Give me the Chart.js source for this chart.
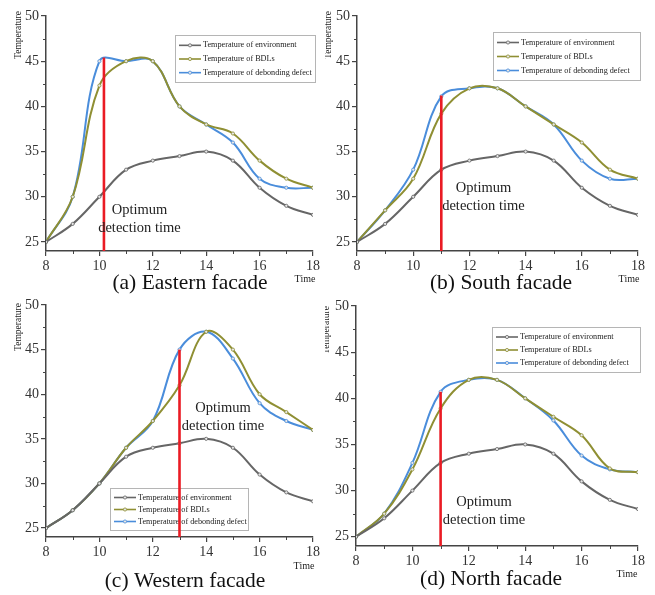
<!DOCTYPE html>
<html><head><meta charset="utf-8">
<script src="https://cdn.jsdelivr.net/npm/chart.js@4/dist/chart.umd.min.js"></script>
<style>
html,body{margin:0;padding:0;background:#fff}
body{width:655px;height:595px;position:relative;overflow:hidden}
canvas{position:absolute}
</style></head>
<body>
<canvas id="pa"></canvas><canvas id="pb"></canvas><canvas id="pc"></canvas><canvas id="pd"></canvas>
<script>
// ---------- data ----------
const hours = [8, 9, 10, 11, 12, 13, 14, 15, 16, 17, 18];
const seriesLabels = ['Temperature of environment', 'Temperature of BDLs', 'Temperature of debonding defect'];
const yTickValues = [25, 30, 35, 40, 45, 50];
const yMinorValues = [27.5, 32.5, 37.5, 42.5, 47.5];
const xMinorValues = [9, 11, 13, 15, 17];
const panelTitles = ['(a) Eastern facade', '(b) South facade', '(c) Western facade', '(d) North facade'];
const optimumText = ['Optimum', 'detection time'];

const envEast = [25, 27, 30, 33, 34, 34.5, 35, 34, 31, 29, 28];
const bdlEast = [25, 30, 42.3, 45, 45, 40, 38, 37, 34, 32, 31];
const defEast = [25, 30, 45, 45, 45, 40, 38, 36, 32, 31, 31];
const optEast = [10.17, 45.4];   // time, top temperature of red line

const envSouth = [25, 27, 30, 33, 34, 34.5, 35, 34, 31, 29, 28];
const bdlSouth = [25, 28.5, 32, 39.2, 42, 42, 40, 38, 36, 33, 32];
const defSouth = [25, 28.5, 33, 41.1, 42, 42, 40, 38, 34, 32, 32];
const optSouth = [11, 41.2];

const envWest = [25, 27, 30, 33, 34, 34.5, 35, 34, 31, 29, 28];
const bdlWest = [25, 27, 30, 34, 37, 41, 47, 45, 40, 38, 36];
const defWest = [25, 27, 30, 34, 37, 45, 47, 44, 39, 37, 36];
const optWest = [13, 45];

const envNorth = [25, 27, 30, 33, 34, 34.5, 35, 34, 31, 29, 28];
const bdlNorth = [25, 27.5, 32.3, 38.9, 42, 42, 40, 38, 36, 32.4, 32];
const defNorth = [25, 27.5, 33, 40.7, 42, 42, 40, 37.6, 33.8, 32.3, 32];
const optNorth = [11, 40.7];

// ---------- styling / layout ----------
const COLORS = ['#666666', '#8f8f33', '#4a8ddb'];
const AXIS = '#444444';
const SERIF = "'Liberation Serif', 'Times New Roman', serif";

const panels = [
  {id:'pa', env:envEast, bdl:bdlEast, def:defEast, opt:optEast, title:panelTitles[0],
   L:{x:0, y:0, w:325, h:295, yw:46, top:16, right:12, xh:20, bottom:24,
      legend:{x:175, y:35, w:140, h:47}, titleXY:[190, 283], timeXY:[305, 279], ytXY:[18, 35], optXY:[11.5, 28.5]}},
  {id:'pb', env:envSouth, bdl:bdlSouth, def:defSouth, opt:optSouth, title:panelTitles[1],
   L:{x:325, y:0, w:330, h:295, yw:32, top:16, right:17, xh:20, bottom:24,
      legend:{x:168, y:32, w:147, h:48}, titleXY:[176, 283], timeXY:[304, 279], ytXY:[3, 35], optXY:[12.5, 31.0]}},
  {id:'pc', env:envWest, bdl:bdlWest, def:defWest, opt:optWest, title:panelTitles[2],
   L:{x:0, y:295, w:325, h:300, yw:46, top:10, right:12, xh:20, bottom:38,
      legend:{x:110, y:193, w:138, h:42}, titleXY:[185, 286], timeXY:[304, 271], ytXY:[18, 32], optXY:[14.63, 38.45]}},
  {id:'pd', env:envNorth, bdl:bdlNorth, def:defNorth, opt:optNorth, title:panelTitles[3],
   L:{x:325, y:295, w:330, h:300, yw:31, top:11, right:17, xh:20, bottom:29,
      legend:{x:167, y:32, w:148, h:45}, titleXY:[166, 284], timeXY:[302, 279], ytXY:[1, 35], optXY:[12.54, 28.8]}}
];

const decor = {
  id: 'decor',
  afterDatasetsDraw(chart, args, o) {
    const ctx = chart.ctx, xs = chart.scales.x, ys = chart.scales.y, ca = chart.chartArea;
    const p = o.p, L = p.L;
    ctx.save();
    // minor ticks
    ctx.strokeStyle = AXIS; ctx.lineWidth = 1;
    yMinorValues.forEach(v => {
      const py = Math.round(ys.getPixelForValue(v)) + 0.5;
      ctx.beginPath(); ctx.moveTo(ca.left - 3, py); ctx.lineTo(ca.left, py); ctx.stroke();
    });
    xMinorValues.forEach(v => {
      const px = Math.round(xs.getPixelForValue(v)) + 0.5;
      ctx.beginPath(); ctx.moveTo(px, ca.bottom); ctx.lineTo(px, ca.bottom + 3); ctx.stroke();
    });
    // legend
    const lg = L.legend;
    ctx.fillStyle = '#fff';
    ctx.fillRect(lg.x, lg.y, lg.w, lg.h);
    ctx.strokeStyle = '#b5b5b5'; ctx.lineWidth = 1;
    ctx.strokeRect(lg.x + 0.5, lg.y + 0.5, lg.w, lg.h);
    const step = (lg.h - 6) / 3;
    chart.data.datasets.forEach((ds, i) => {
      const ry = lg.y + 3 + step * (i + 0.5) + 0.5;
      ctx.strokeStyle = ds.borderColor; ctx.lineWidth = 1.6;
      ctx.beginPath(); ctx.moveTo(lg.x + 4, ry); ctx.lineTo(lg.x + 26, ry); ctx.stroke();
      ctx.fillStyle = '#e6e6e6'; ctx.lineWidth = 0.8;
      ctx.beginPath(); ctx.arc(lg.x + 15, ry, 1.6, 0, Math.PI * 2); ctx.fill(); ctx.stroke();
      ctx.fillStyle = '#222'; ctx.font = '8.2px ' + SERIF; ctx.textBaseline = 'middle'; ctx.textAlign = 'left';
      ctx.fillText(ds.label, lg.x + 28, ry);
    });
    // red line (optimum detection time)
    const rx = xs.getPixelForValue(p.opt[0]);
    ctx.strokeStyle = '#ea1b24'; ctx.lineWidth = 2.6;
    ctx.beginPath(); ctx.moveTo(rx, ca.bottom); ctx.lineTo(rx, ys.getPixelForValue(p.opt[1])); ctx.stroke();
    // optimum text
    ctx.fillStyle = '#222'; ctx.font = '14.5px ' + SERIF; ctx.textAlign = 'center'; ctx.textBaseline = 'middle';
    const ox = xs.getPixelForValue(L.optXY[0]), oy = ys.getPixelForValue(L.optXY[1]);
    ctx.fillText(optimumText[0], ox, oy);
    ctx.fillText(optimumText[1], ox, oy + 18);
    // panel title
    ctx.font = '21.5px ' + SERIF; ctx.fillStyle = '#111';
    ctx.fillText(p.title, L.titleXY[0], L.titleXY[1]);
    // axis titles
    ctx.font = '10px ' + SERIF; ctx.fillStyle = '#222';
    ctx.fillText('Time', L.timeXY[0], L.timeXY[1]);
    ctx.save();
    ctx.translate(L.ytXY[0], L.ytXY[1]); ctx.rotate(-Math.PI / 2);
    ctx.font = '9.5px ' + SERIF;
    ctx.fillText('Temperature', 0, 0);
    ctx.restore();
    ctx.restore();
  }
};

function ds(label, arr, color) {
  return {
    label, data: hours.map((h, i) => ({x: h, y: arr[i]})),
    borderColor: color, borderWidth: 2, tension: 0.38,
    pointRadius: 1.6, pointBackgroundColor: '#e6e6e6', pointBorderColor: color, pointBorderWidth: 0.8
  };
}

panels.forEach(p => {
  const L = p.L;
  const cv = document.getElementById(p.id);
  cv.width = L.w; cv.height = L.h;
  cv.style.left = L.x + 'px'; cv.style.top = L.y + 'px';
  cv.style.width = L.w + 'px'; cv.style.height = L.h + 'px';
  new Chart(cv, {
    type: 'line',
    data: {datasets: [ds(seriesLabels[0], p.env, COLORS[0]), ds(seriesLabels[1], p.bdl, COLORS[1]), ds(seriesLabels[2], p.def, COLORS[2])]},
    options: {
      responsive: false, animation: false, devicePixelRatio: 1,
      layout: {padding: {left: 0, top: L.top, right: L.right, bottom: L.bottom}},
      plugins: {legend: {display: false}, tooltip: {enabled: false}, decor: {p}},
      scales: {
        x: {type: 'linear', min: 8, max: 18,
            ticks: {stepSize: 2, maxRotation: 0, autoSkip: false, padding: 2, color: '#333', font: {family: SERIF, size: 14}},
            grid: {drawOnChartArea: false, drawTicks: true, tickLength: 5, color: AXIS, lineWidth: 1.2},
            border: {color: AXIS, width: 1.5},
            afterFit(s) { s.height = L.xh; s.paddingLeft = 0; s.paddingRight = 0; }},
        y: {type: 'linear', min: 24, max: 50,
            afterBuildTicks(s) { s.ticks = yTickValues.map(v => ({value: v})); },
            ticks: {padding: 2, color: '#333', font: {family: SERIF, size: 14}},
            grid: {drawOnChartArea: false, drawTicks: true, tickLength: 5, color: AXIS, lineWidth: 1.2},
            border: {color: AXIS, width: 1.5},
            afterFit(s) { s.width = L.yw; s.paddingTop = 0; s.paddingBottom = 0; }}
      }
    },
    plugins: [decor]
  });
});
</script>
</body></html>
